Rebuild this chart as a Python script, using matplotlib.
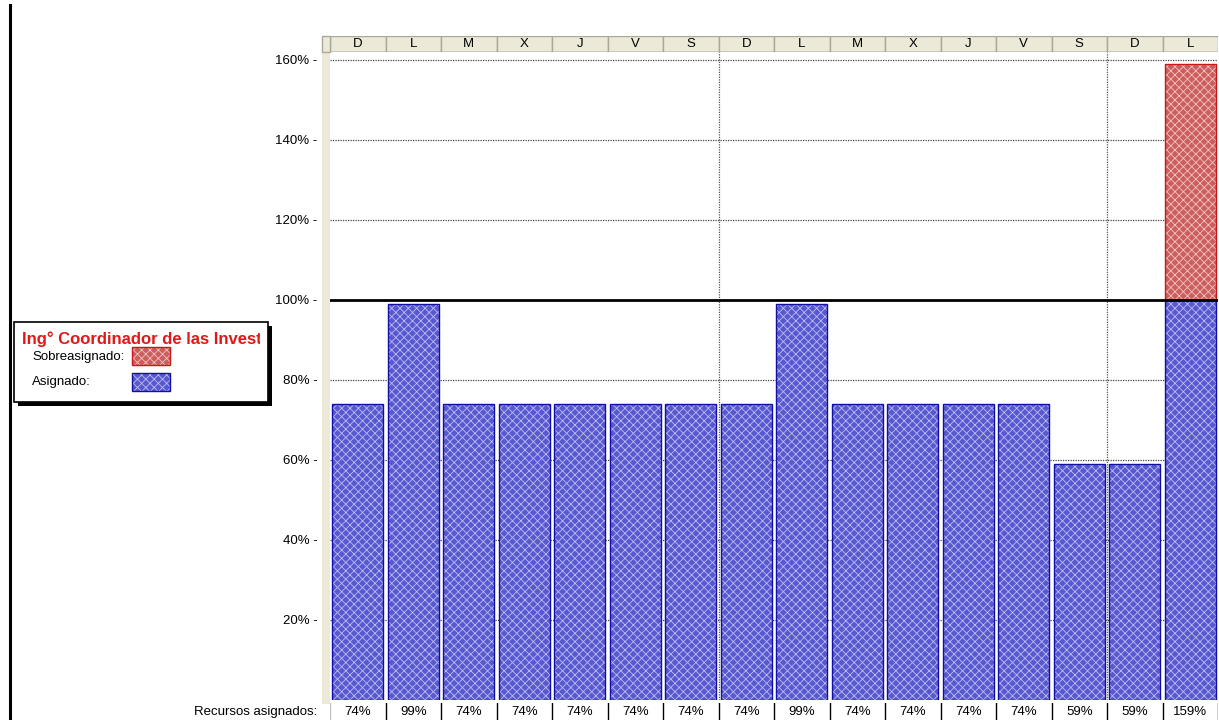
import matplotlib

matplotlib.use("Agg")
import matplotlib.pyplot as plt
from matplotlib.patches import Rectangle
from matplotlib.lines import Line2D

plt.rcParams["font.family"] = ["Liberation Sans", "DejaVu Sans"]
plt.rcParams["hatch.linewidth"] = 0.6

# day initials for the 16 columns of the usage view
days = ["D", "L", "M", "X", "J", "V", "S", "D", "L", "M", "X", "J", "V", "S", "D", "L"]
# assigned work per day, percent of capacity
recursos = [74, 99, 74, 74, 74, 74, 74, 74, 99, 74, 74, 74, 74, 59, 59, 159]
yticks = [20, 40, 60, 80, 100, 120, 140, 160]
week_breaks = [6.5, 13.5]
resource_name = "Ing° Coordinador de las Investigaciones"

asignado = [min(v, 100) for v in recursos]
sobre = [max(v - 100, 0) for v in recursos]

W, H = 1219, 720
fig = plt.figure(figsize=(W / 100, H / 100), dpi=100)


def fx(px):
    return px / W


def fy(py):
    return 1 - py / H


FS = 9.5
BEIGE = "#ece9d8"
BEIGE_EDGE = "#aca899"
BLUE_FILL = "#5858d0"
BLUE_DOT = "#bcbcf0"
BLUE_EDGE = "#1010a8"
RED_FILL = "#cc5e5e"
RED_DOT = "#f0c4c4"
RED_EDGE = "#c81818"

x0, x1 = 330, 1218
y_top, y_zero = 52, 700
ncol = len(days)

# left frame line and the beige strip beside the value axis
fig.add_artist(Line2D([fx(10), fx(10)], [fy(5), fy(720)], color="black", lw=2.2))
fig.add_artist(Rectangle((fx(322), fy(704)), fx(8), (704 - 36) / H,
                         facecolor=BEIGE, edgecolor="none"))

# main chart
ax = fig.add_axes([fx(x0), fy(y_zero), fx(x1 - x0), (y_zero - y_top) / H])
ax.set_xlim(-0.5, ncol - 0.5)
ax.set_ylim(0, 162)
for y in yticks:
    if y == 100:
        continue
    ax.axhline(y, color="#444444", lw=0.9, ls=(0, (1, 1)), zorder=1)
for xb in week_breaks:
    ax.axvline(xb, color="#555555", lw=0.9, ls=(0, (1, 1)), zorder=1)

xs = list(range(ncol))
bw = 0.91
ax.bar(xs, asignado, width=bw, color=BLUE_FILL, edgecolor=BLUE_DOT, lw=0,
       hatch="xxxx", zorder=2)
ax.bar(xs, asignado, width=bw, fill=False, edgecolor=BLUE_EDGE, lw=1.0, zorder=3)
ax.bar(xs, sobre, bottom=asignado, width=bw, color=RED_FILL, edgecolor=RED_DOT,
       lw=0, hatch="xxxx", zorder=2)
for x, a, s in zip(xs, asignado, sobre):
    if s > 0:
        ax.bar(x, s, bottom=a, width=bw, fill=False, edgecolor=RED_EDGE, lw=1.0, zorder=3)

ax.axhline(100, color="black", lw=2.0, zorder=4)

ax.set_xticks([])
ax.set_yticks(yticks)
ax.set_yticklabels([f"{v}% -" for v in yticks], fontsize=FS)
ax.tick_params(axis="y", length=0, pad=9)
for sp in ax.spines.values():
    sp.set_visible(False)

# day header row
hdr = fig.add_axes([fx(x0), fy(52), fx(x1 - x0), 16 / H])
hdr.set_xlim(-0.5, ncol - 0.5)
hdr.set_ylim(0, 1)
hdr.axis("off")
for i, d in enumerate(days):
    hdr.add_patch(Rectangle((i - 0.5, 0), 1, 1, facecolor=BEIGE, edgecolor=BEIGE_EDGE, lw=1))
    hdr.text(i, 0.5, d, ha="center", va="center", fontsize=FS)
hdr.plot([-0.5, ncol - 0.5], [0, 0], color="#808080", lw=1)
fig.add_artist(Rectangle((fx(322), fy(52)), fx(8), 16 / H,
                         facecolor=BEIGE, edgecolor=BEIGE_EDGE, lw=1))

# bottom row with the assigned percentage per day
tbl = fig.add_axes([fx(x0), 0, fx(x1 - x0), 17 / H])
tbl.set_xlim(-0.5, ncol - 0.5)
tbl.set_ylim(0, 1)
tbl.axis("off")
for i, v in enumerate(recursos):
    tbl.plot([i + 0.5, i + 0.5], [0, 1], color="black", lw=1)
    tbl.text(i, 0.45, f"{v}%", ha="center", va="center", fontsize=FS)
tbl.plot([-0.5, -0.5], [0, 1], color="#c0c0c0", lw=1)
fig.text(fx(317), fy(712), "Recursos asignados:", ha="right", va="center", fontsize=FS)

# legend box with drop shadow
lx, ly, lw_, lh = 14, 322, 254, 80
fig.add_artist(Rectangle((fx(lx + 4), fy(ly + lh + 4)), fx(lw_), lh / H,
                         facecolor="black", edgecolor="none"))
box = Rectangle((fx(lx), fy(ly + lh)), fx(lw_), lh / H,
                facecolor="white", edgecolor="black", lw=1.2)
fig.add_artist(box)
title = fig.text(fx(22), fy(339), resource_name, ha="left", va="center",
                 fontsize=12, fontweight="bold", color="#e01818")
clip = Rectangle((fx(lx), fy(ly + lh)), fx(lw_ - 8), lh / H,
                 transform=fig.transFigure, facecolor="none", edgecolor="none")
title.set_clip_path(clip)
fig.text(fx(32), fy(357), "Sobreasignado:", ha="left", va="center", fontsize=FS)
fig.text(fx(32), fy(382), "Asignado:", ha="left", va="center", fontsize=FS)
for py, fc, dot, ec in [(347, RED_FILL, RED_DOT, RED_EDGE), (373, BLUE_FILL, BLUE_DOT, BLUE_EDGE)]:
    fig.add_artist(Rectangle((fx(132), fy(py + 18)), fx(38), 18 / H,
                             facecolor=fc, edgecolor=dot, lw=0, hatch="xxxx"))
    fig.add_artist(Rectangle((fx(132), fy(py + 18)), fx(38), 18 / H,
                             fill=False, edgecolor=ec, lw=1))

fig.savefig("out.png", dpi=100)
